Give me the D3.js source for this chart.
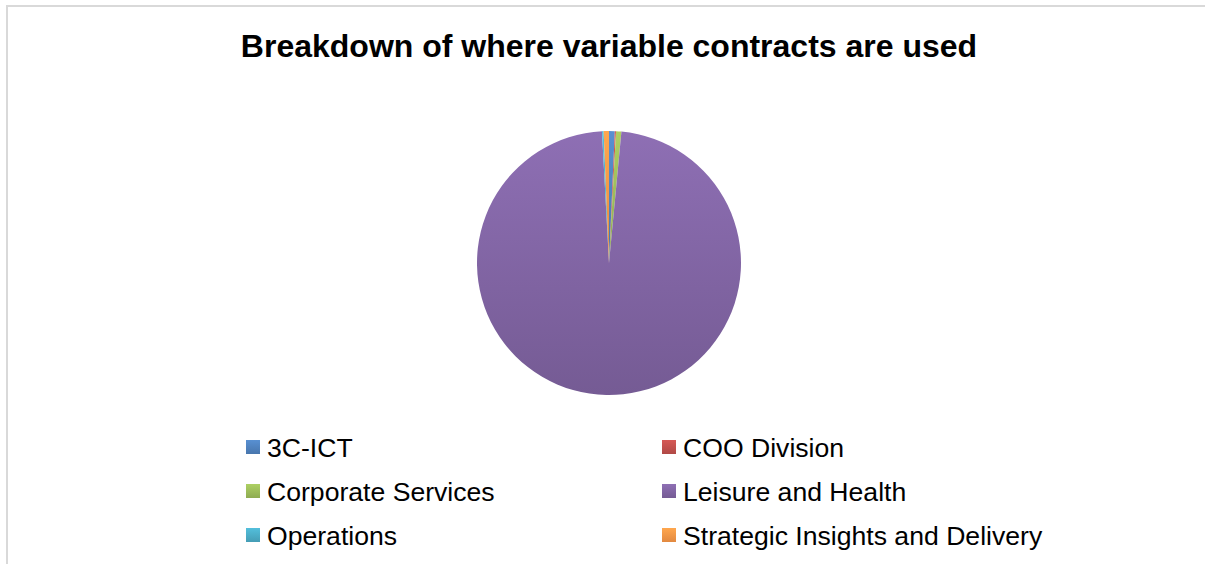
<!DOCTYPE html>
<meta charset="utf-8">
<style>
body { margin: 0; background: #fff; }
text { font-family: "Liberation Sans", Arial, sans-serif; }
</style>
<script src="https://cdn.jsdelivr.net/npm/d3@7/dist/d3.min.js"></script>
<body>
<script>
const categories = ['3C-ICT', 'COO Division', 'Corporate Services', 'Leisure and Health', 'Operations', 'Strategic Insights and Delivery'];
const values = [0.7, 0.15, 0.65, 97.65, 0.2, 0.65];
const colors = ['#4F81BD', '#C0504D', '#9BBB59', '#8064A2', '#4BACC6', '#F79646'];

const W = 1205, H = 564;
const cx = 609, cy = 263, radius = 132;

const svg = d3.select('body').append('svg')
  .attr('width', W)
  .attr('height', H);

// gradients, light at top, darker at bottom
const defs = svg.append('defs');
colors.forEach((c, i) => {
  const g = defs.append('linearGradient')
    .attr('id', 'grad' + i)
    .attr('x1', 0).attr('y1', 0).attr('x2', 0).attr('y2', 1);
  g.append('stop').attr('offset', '0%').attr('stop-color', d3.color(c).brighter(0.3));
  g.append('stop').attr('offset', '100%').attr('stop-color', d3.color(c).darker(0.25));
});

// chart area border
svg.append('rect')
  .attr('x', 7).attr('y', 6)
  .attr('width', W + 20).attr('height', H + 20)
  .attr('fill', 'none')
  .attr('stroke', '#d9d9d9')
  .attr('stroke-width', 2);

svg.append('text')
  .attr('x', cx)
  .attr('y', 57)
  .attr('text-anchor', 'middle')
  .style('font-size', '32px')
  .style('font-weight', 'bold')
  .text('Breakdown of where variable contracts are used');

const pie = d3.pie().sort(null).value(d => d)(values);
const arc = d3.arc().innerRadius(0).outerRadius(radius);

svg.append('g')
  .attr('transform', `translate(${cx}, ${cy})`)
  .selectAll('path')
  .data(pie)
  .enter()
  .append('path')
    .attr('d', arc)
    .attr('fill', (d, i) => `url(#grad${i})`);

// legend: two columns, three rows
const colX = [246, 662];
const rowY = d3.scalePoint().domain([0, 1, 2]).range([447, 535]);

const legend = svg.append('g')
  .selectAll('g')
  .data(categories)
  .enter()
  .append('g')
    .attr('transform', (d, i) => `translate(${colX[i % 2]}, ${rowY(Math.floor(i / 2))})`);

legend.append('rect')
  .attr('x', 0).attr('y', -7)
  .attr('width', 14).attr('height', 14)
  .attr('fill', (d, i) => `url(#grad${i})`);

legend.append('text')
  .attr('x', 21)
  .attr('y', 10)
  .style('font-size', '26.6px')
  .attr('fill', '#000')
  .text(d => d);
</script>
</body>
